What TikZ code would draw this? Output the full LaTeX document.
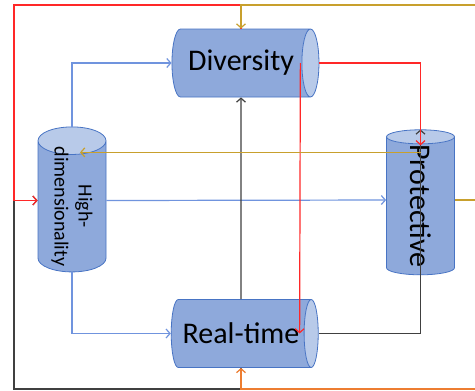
\documentclass[tikz,border=0pt]{standalone}
\usepackage{fontspec}
\setmainfont{Carlito}
\usepackage{tikz}
\usetikzlibrary{arrows.meta, calc, shapes.geometric}

\definecolor{cylbody}{RGB}{142,169,219}
\definecolor{cylend}{RGB}{184,202,233}
\definecolor{cylline}{RGB}{72,116,196}
\definecolor{bluelink}{RGB}{112,148,222}
\definecolor{redlink}{RGB}{255,40,40}
\definecolor{goldlink}{RGB}{200,160,45}
\definecolor{orangelink}{RGB}{237,125,49}
\definecolor{blacklink}{RGB}{64,64,64}

\tikzset{
  cyl/.style  = {cylinder, draw = cylline, line width = 0.8pt, aspect = 0.67,
                 cylinder uses custom fill, cylinder body fill = cylbody,
                 cylinder end fill = cylend, inner xsep = -60pt, inner ysep = 0pt,
                 minimum height = 147pt, minimum width = 68pt},
  hcyl/.style = {cyl, font = \fontsize{30}{36}\selectfont},
  vcyl/.style = {cyl, shape border rotate = 180, rotate = -90,
                 minimum height = 145pt},
  link/.style = {line width = 1.2pt,
                 -{Straight Barb[length = 4pt, width = 9pt]}}
}

\begin{document}
\begin{tikzpicture}[x = 1pt, y = 1pt, node distance = 270.5pt]
    \clip (0,0) rectangle (475,-391);
    \fill[white] (0,0) rectangle (475,-391);

    \node[hcyl] (div)                        at (241,-63)    {Diversity};
    \node[hcyl] (rt)  [below of = div]                       {Real-time};
    \node[vcyl, align = center, font = \fontsize{20}{24}\selectfont]
                (hd)                         at (72,-206.5)  {High-\\dimensionality};
    \node[vcyl, font = \fontsize{30}{36}\selectfont]
                (pro)                        at (420.5,-206) {Protective};

    \coordinate (redtl)   at (14,-5);
    \coordinate (blackbl) at (14,-389);
    \coordinate (goldout) at (490,-5);
    \coordinate (orout)   at (490,-389);
    \coordinate (goldmid) at ([yshift = -23pt]pro.west);

    % blue
    \draw[link, bluelink] (hd.west)  |- (div.west);
    \draw[link, bluelink] (hd.east)  |- (rt.west);
    \draw[link, bluelink] ([yshift = 6pt]hd.north) -- ([yshift = 6pt]pro.south);

    % black
    \draw[link, blacklink] (rt.south) |- (blackbl) |- ([yshift = 6pt]hd.south);
    \draw[link, blacklink] (rt.north) -- (div.south);
    \draw[link, blacklink] (rt.east)  -| (pro.west);

    % red
    \draw[link, redlink] (div.north) |- (redtl) |- ([yshift = 6pt]hd.south);
    \draw[link, redlink] (div.east)  -| ([yshift = -16pt]pro.west);
    \draw[link, redlink] ([xshift = -19pt]div.east) -- ([xshift = -19pt]rt.east);

    % gold and orange
    \draw[link, goldlink] ([yshift = 6pt]pro.north) -| (goldout) -| (div.north);
    \draw[link, goldlink] (goldmid) -- ($(hd.center |- goldmid) + (8,0)$);
    \draw[link, orangelink] (orout) -| (rt.south);
\end{tikzpicture}
\end{document}
